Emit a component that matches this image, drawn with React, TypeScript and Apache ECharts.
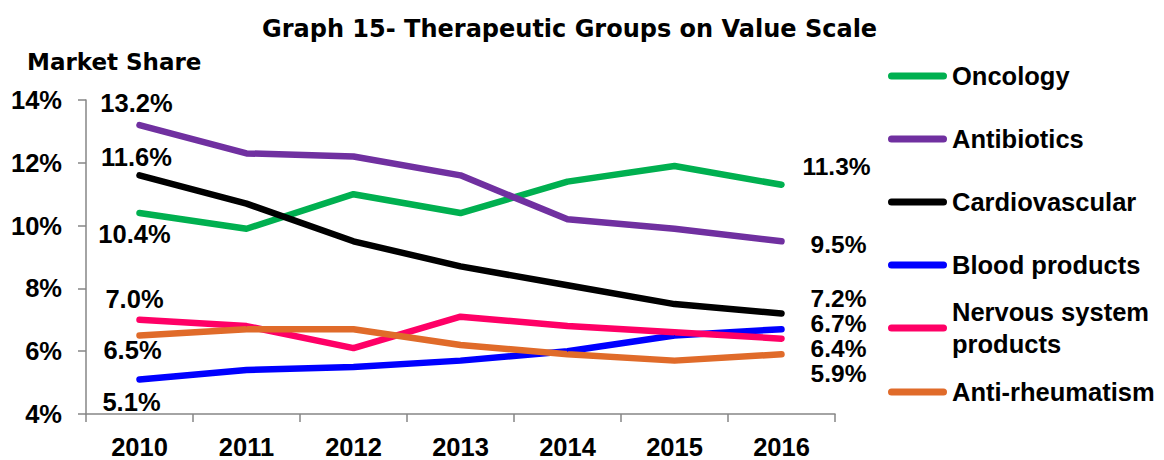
import React, { useEffect, useRef } from 'react';
import * as echarts from 'echarts';

const years = ['2010', '2011', '2012', '2013', '2014', '2015', '2016'];
const seriesNames = ['Oncology', 'Antibiotics', 'Cardiovascular', 'Blood products', 'Nervous system products', 'Anti-rheumatism'];
const oncology = [10.4, 9.9, 11.0, 10.4, 11.4, 11.9, 11.3];
const antibiotics = [13.2, 12.3, 12.2, 11.6, 10.2, 9.9, 9.5];
const cardiovascular = [11.6, 10.7, 9.5, 8.7, 8.1, 7.5, 7.2];
const bloodProducts = [5.1, 5.4, 5.5, 5.7, 6.0, 6.5, 6.7];
const nervousSystem = [7.0, 6.8, 6.1, 7.1, 6.8, 6.6, 6.4];
const antiRheumatism = [6.5, 6.7, 6.7, 6.2, 5.9, 5.7, 5.9];
const yMin = 4;
const yMax = 14;
const yStep = 2;

const seriesValues = [oncology, antibiotics, cardiovascular, bloodProducts, nervousSystem, antiRheumatism];
const colors = ['#00B050', '#7030A0', '#000000', '#0000FF', '#FF0066', '#E06B2A'];
const startOffsets = [[-5, 21], [-3, -22], [-3, -18], [-8, 23], [-5, -21], [-7, 14]];
const endOffsets = [[55, -18], [57, 3], [57, -15], [57, -5.5], [57, 10], [57, 19]];

const FONT = "'Liberation Sans', Arial, sans-serif";
const ICON = 'path://M3.5,0L55.5,0A3.5,3.5 0 0 1 55.5,7L3.5,7A3.5,3.5 0 0 1 3.5,0Z';

export default function App() {
  const ref = useRef<HTMLDivElement>(null);
  useEffect(() => {
    if (!ref.current) return;
    const chart = echarts.init(ref.current, null, { renderer: 'svg' });
    const labelStyle = { fontFamily: FONT, fontWeight: 'bold', fontSize: 25.5, color: '#000' };
    const legendBase = {
      orient: 'vertical',
      left: 888,
      padding: 0,
      itemWidth: 59,
      itemHeight: 7,
      itemGap: 31,
      icon: ICON,
      textStyle: { fontFamily: FONT, fontWeight: 'bold', fontSize: 25.5, color: '#000', lineHeight: 32 },
    };
    const series = seriesNames.map((name, si) => {
      const vals = seriesValues[si];
      const last = vals.length - 1;
      return {
        name,
        type: 'line',
        silent: true,
        symbol: 'circle',
        symbolSize: 1,
        showSymbol: true,
        itemStyle: { color: colors[si] },
        lineStyle: { color: colors[si], width: 6.5, cap: 'round', join: 'round' },
        label: {
          show: false,
          position: 'inside',
          ...labelStyle,
          lineHeight: 19,
          formatter: (p: any) => Number(p.value).toFixed(1) + '%',
        },
        data: vals.map((v, i) => {
          if (i === 0) return { value: v, label: { show: true, offset: startOffsets[si] } };
          if (i === last) return { value: v, label: { show: true, fontSize: 24.5, offset: endOffsets[si] } };
          return { value: v };
        }),
      };
    });
    chart.setOption({
      animation: false,
      backgroundColor: '#ffffff',
      title: [
        {
          text: 'Graph 15- Therapeutic Groups on Value Scale',
          left: 262,
          top: 17,
          padding: 0,
          textStyle: { fontFamily: "'DejaVu Sans', sans-serif", fontWeight: 'bold', fontSize: 24, color: '#000' },
        },
        {
          text: 'Market Share',
          left: 27,
          top: 50,
          padding: 0,
          textStyle: { fontFamily: "'DejaVu Sans', sans-serif", fontWeight: 'bold', fontSize: 23, color: '#000' },
        },
      ],
      legend: [
        { ...legendBase, top: 60, data: seriesNames.slice(0, 4) },
        {
          ...legendBase,
          top: 280,
          data: [seriesNames[4]],
          formatter: () => 'Nervous system\nproducts',
          textStyle: { ...legendBase.textStyle, padding: [32, 0, 0, 0] },
        },
        { ...legendBase, top: 376, data: [seriesNames[5]] },
      ],
      grid: { left: 86, top: 100, width: 749, height: 315, containLabel: false },
      xAxis: {
        type: 'category',
        data: years,
        boundaryGap: true,
        axisLine: { show: true, lineStyle: { color: '#868686', width: 1.5 } },
        axisTick: { show: true, length: 8, alignWithLabel: false, lineStyle: { color: '#868686', width: 1.5 } },
        axisLabel: { ...labelStyle, margin: 20, interval: 0 },
        splitLine: { show: false },
      },
      yAxis: {
        type: 'value',
        min: yMin,
        max: yMax,
        interval: yStep,
        axisLine: { show: true, lineStyle: { color: '#868686', width: 1.5 } },
        axisTick: { show: true, length: 8, lineStyle: { color: '#868686', width: 1.5 } },
        axisLabel: { ...labelStyle, margin: 24, formatter: '{value}%' },
        splitLine: { show: false },
      },
      series,
    });
    return () => chart.dispose();
  }, []);
  return (
    <div
      ref={ref}
      style={{ position: 'fixed', left: 0, top: 0, width: 1164, height: 460, background: '#fff' }}
    />
  );
}
